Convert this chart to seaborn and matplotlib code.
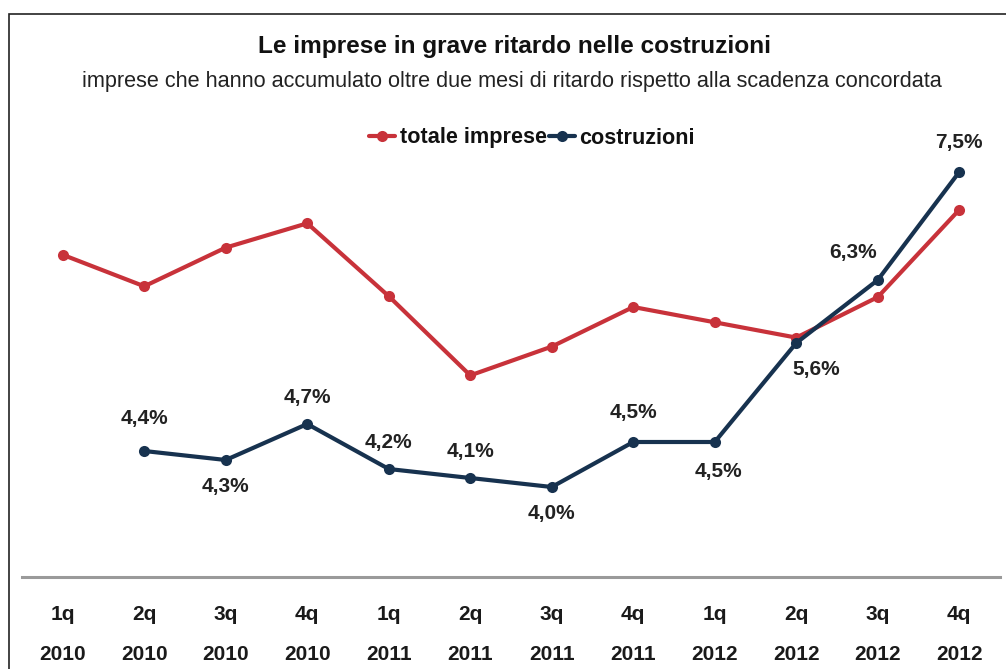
import matplotlib
matplotlib.use("Agg")
import matplotlib.pyplot as plt
import seaborn as sns
import numpy as np
import pandas as pd
from matplotlib.patches import Rectangle
from matplotlib.lines import Line2D

quarters = ["1q", "2q", "3q", "4q", "1q", "2q", "3q", "4q", "1q", "2q", "3q", "4q"]
years = ["2010", "2010", "2010", "2010", "2011", "2011", "2011", "2011", "2012", "2012", "2012", "2012"]
totale_imprese = [6.58, 6.23, 6.66, 6.93, 6.12, 5.24, 5.56, 6.0, 5.83, 5.66, 6.11, 7.08]
costruzioni = [np.nan, 4.4, 4.3, 4.7, 4.2, 4.1, 4.0, 4.5, 4.5, 5.6, 6.3, 7.5]
series_names = ["totale imprese", "costruzioni"]

RED = "#c8323a"
NAVY = "#17324f"

sns.set_theme(style="white")
plt.rcParams["font.family"] = ["Liberation Sans", "DejaVu Sans"]

fig = plt.figure(figsize=(10.06, 6.69), dpi=100)
ax = fig.add_axes([22 / 1006, (669 - 577) / 669, (1000 - 22) / 1006, (577 - 127) / 669])

x = np.arange(len(quarters))
df = pd.DataFrame({
    "x": np.concatenate([x, x]),
    "valore": totale_imprese + costruzioni,
    "serie": [series_names[0]] * len(x) + [series_names[1]] * len(x),
})
df = df.dropna()

sns.lineplot(data=df, x="x", y="valore", hue="serie", palette=[RED, NAVY],
             marker="o", markersize=8, linewidth=3, markeredgewidth=0,
             ax=ax, legend=False, zorder=3)

# labels for costruzioni: (x shift, side)
offsets = {1: (0, 1.25), 2: (0, -1), 3: (0, 1), 4: (0, 1), 5: (0, 1), 6: (0, -1),
           7: (0, 1.1), 8: (0.05, -1.1), 9: (0.24, -1), 10: (-0.3, 1.05), 11: (0, 1.1)}
for i, v in enumerate(costruzioni):
    if np.isnan(v):
        continue
    dx, side = offsets[i]
    ax.annotate(f"{v:.1f}%".replace(".", ","), (x[i], v), xytext=(dx * 81.5 * 0.72, 19 * side),
                textcoords="offset points", ha="center", va="center",
                fontsize=15, fontweight="bold", color="#222222")

ax.set_xlim(-0.5, 11.5)
ax.set_ylim(3.0, 8.0)
ax.set_xlabel("")
ax.set_ylabel("")
ax.set_yticks([])
for s in ["top", "right", "left"]:
    ax.spines[s].set_visible(False)
ax.spines["bottom"].set_color("#9a9a9a")
ax.spines["bottom"].set_linewidth(2.2)

ax.set_xticks(x)
ax.set_xticklabels([f"{q}\n{y}" for q, y in zip(quarters, years)],
                   fontsize=15, fontweight="bold", color="#1a1a1a", linespacing=2.4)
ax.tick_params(axis="x", which="major", length=0, pad=20)
ax.set_xticks(np.arange(-0.5, 12.0, 1.0), minor=True)
ax.tick_params(axis="x", which="minor", length=6, width=1.5, color="#9a9a9a", direction="out")

fig.text(515 / 1006, 1 - 46 / 669, "Le imprese in grave ritardo nelle costruzioni",
         ha="center", va="center", fontsize=17.6, fontweight="bold", color="#111111")
fig.text(512 / 1006, 1 - 81 / 669,
         "imprese che hanno accumulato oltre due mesi di ritardo rispetto alla scadenza concordata",
         ha="center", va="center", fontsize=15.6, color="#222222")

handles = [Line2D([0], [0], color=RED, lw=3, marker="o", markersize=8, markeredgewidth=0),
           Line2D([0], [0], color=NAVY, lw=3, marker="o", markersize=8, markeredgewidth=0)]
leg = fig.legend(handles, series_names, loc="center", bbox_to_anchor=(532 / 1006, 1 - 138 / 669),
                 ncol=2, frameon=False, handlelength=1.2, handletextpad=0.2, columnspacing=0.1,
                 prop={"size": 15.6, "weight": "bold"})
for t in leg.get_texts():
    t.set_color("#111111")

fig.patches.append(Rectangle((9 / 1006, -0.1), 1.2, 1 - 14 / 669 + 0.1, transform=fig.transFigure,
                             fill=False, edgecolor="#222222", linewidth=1.2))

fig.savefig("out.png", dpi=100)
